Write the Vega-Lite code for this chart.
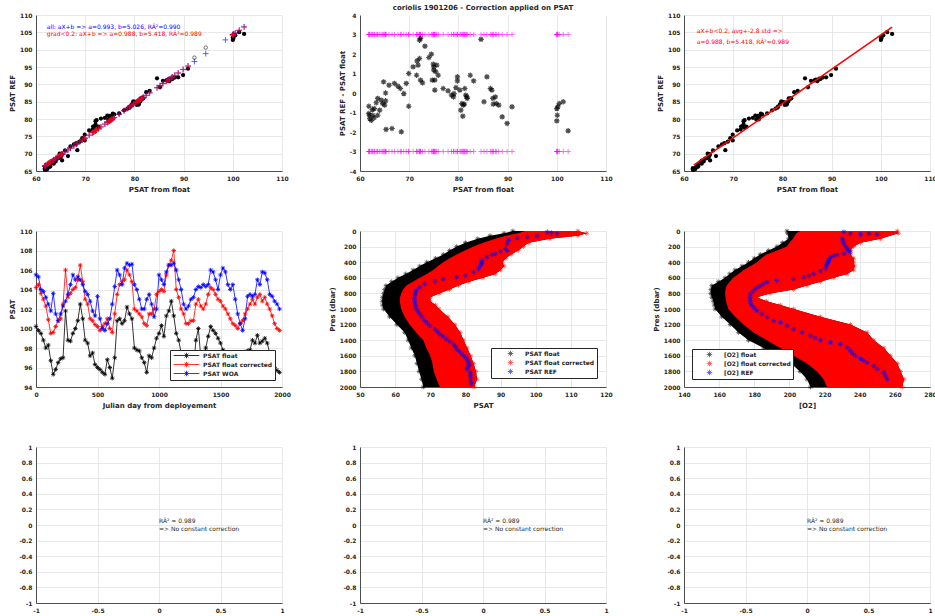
{
  "$schema": "https://vega.github.io/schema/vega-lite/v6.json",
  "background": "white",
  "padding": {"left": 8, "top": 4, "right": 0, "bottom": 0},
  "config": {
    "font": "DejaVu Sans",
    "view": {"stroke": null},
    "title": {"fontSize": 7, "fontWeight": "bold", "color": "#262626", "offset": 1},
    "axis": {
      "labelFontSize": 6, "labelFontWeight": "bold", "labelColor": "#262626",
      "titleFontSize": 7, "titleFontWeight": "bold", "titleColor": "#262626",
      "domainColor": "#262626", "domainWidth": 0.8,
      "gridColor": "#e2e2e2", "gridWidth": 0.8,
      "ticks": false, "labelPadding": 4, "titlePadding": 4, "tickCount": 50,
      "labelFlush": false, "labelOverlap": false, "labelBound": false
    },
    "legend": {
      "labelFontSize": 6, "labelFontWeight": "bold", "labelColor": "#262626",
      "fillColor": "white", "strokeColor": "#262626", "padding": 2, "rowPadding": 0,
      "symbolStrokeWidth": 0.8, "labelLimit": 200
    }
  },
  "columns": 3,
  "spacing": {"row": 60, "column": 78},
  "bounds": "flush",
  "resolve": {"scale": {"color": "independent"}, "legend": {"color": "independent"}},
  "datasets": {
    "main": [
      {"f":61.8,"r":65.80,"d":-0.68,"g":66.48,"a":66.39},
      {"f":61.8,"r":65.43,"d":-1.05,"g":66.48,"a":66.39},
      {"f":61.9,"r":65.44,"d":-1.14,"g":66.58,"a":66.49},
      {"f":62.0,"r":65.36,"d":-1.31,"g":66.67,"a":66.59},
      {"f":62.3,"r":65.57,"d":-1.40,"g":66.97,"a":66.89},
      {"f":62.6,"r":66.13,"d":-1.14,"g":67.27,"a":67.19},
      {"f":62.5,"r":66.32,"d":-0.85,"g":67.17,"a":67.09},
      {"f":62.9,"r":66.76,"d":-0.80,"g":67.56,"a":67.49},
      {"f":63.3,"r":67.46,"d":-0.50,"g":67.96,"a":67.88},
      {"f":62.9,"r":66.29,"d":-1.27,"g":67.56,"a":67.49},
      {"f":63.6,"r":67.12,"d":-1.14,"g":68.26,"a":68.18},
      {"f":64.0,"r":67.77,"d":-0.88,"g":68.65,"a":68.58},
      {"f":63.6,"r":67.98,"d":-0.28,"g":68.26,"a":68.18},
      {"f":64.3,"r":68.58,"d":-0.37,"g":68.95,"a":68.88},
      {"f":64.8,"r":70.01,"d":0.57,"g":69.44,"a":69.37},
      {"f":64.6,"r":68.70,"d":-0.54,"g":69.24,"a":69.17},
      {"f":65.0,"r":69.02,"d":-0.62,"g":69.64,"a":69.57},
      {"f":65.2,"r":69.44,"d":-0.40,"g":69.84,"a":69.77},
      {"f":65.2,"r":69.84,"d":0.00,"g":69.84,"a":69.77},
      {"f":65.3,"r":68.06,"d":-1.87,"g":69.93,"a":69.87},
      {"f":65.9,"r":70.93,"d":0.40,"g":70.53,"a":70.47},
      {"f":66.5,"r":69.30,"d":-1.82,"g":71.12,"a":71.06},
      {"f":67.0,"r":72.10,"d":0.49,"g":71.61,"a":71.56},
      {"f":67.7,"r":72.66,"d":0.35,"g":72.31,"a":72.25},
      {"f":68.2,"r":73.03,"d":0.23,"g":72.80,"a":72.75},
      {"f":68.4,"r":71.01,"d":-1.99,"g":73.00,"a":72.95},
      {"f":68.9,"r":73.46,"d":-0.03,"g":73.49,"a":73.44},
      {"f":69.4,"r":74.48,"d":0.49,"g":73.99,"a":73.94},
      {"f":69.9,"r":75.48,"d":1.00,"g":74.48,"a":74.44},
      {"f":69.9,"r":73.80,"d":-0.68,"g":74.48,"a":74.44},
      {"f":70.8,"r":76.71,"d":1.34,"g":75.37,"a":75.33},
      {"f":71.5,"r":76.97,"d":0.91,"g":76.06,"a":76.03},
      {"f":71.6,"r":77.81,"d":1.65,"g":76.16,"a":76.12},
      {"f":71.8,"r":77.79,"d":1.43,"g":76.36,"a":76.32},
      {"f":72.1,"r":78.42,"d":1.77,"g":76.65,"a":76.62},
      {"f":72.1,"r":79.36,"d":2.71,"g":76.65,"a":76.62},
      {"f":72.3,"r":79.65,"d":2.80,"g":76.85,"a":76.82},
      {"f":72.3,"r":77.51,"d":0.66,"g":76.85,"a":76.82},
      {"f":72.7,"r":77.77,"d":0.52,"g":77.25,"a":77.22},
      {"f":73.2,"r":80.14,"d":2.40,"g":77.74,"a":77.71},
      {"f":74.0,"r":80.35,"d":1.82,"g":78.53,"a":78.51},
      {"f":74.5,"r":81.01,"d":1.99,"g":79.02,"a":79.00},
      {"f":74.7,"r":79.88,"d":0.66,"g":79.22,"a":79.20},
      {"f":74.9,"r":80.90,"d":1.48,"g":79.42,"a":79.40},
      {"f":75.0,"r":80.86,"d":1.34,"g":79.52,"a":79.50},
      {"f":75.0,"r":80.69,"d":1.17,"g":79.52,"a":79.50},
      {"f":75.2,"r":79.87,"d":0.15,"g":79.72,"a":79.70},
      {"f":75.2,"r":80.38,"d":0.66,"g":79.72,"a":79.70},
      {"f":75.4,"r":81.00,"d":1.09,"g":79.91,"a":79.90},
      {"f":75.6,"r":81.54,"d":1.43,"g":80.11,"a":80.10},
      {"f":75.9,"r":81.32,"d":0.91,"g":80.41,"a":80.40},
      {"f":76.9,"r":81.63,"d":0.23,"g":81.40,"a":81.39},
      {"f":77.9,"r":82.49,"d":0.11,"g":82.38,"a":82.38},
      {"f":78.6,"r":82.97,"d":-0.11,"g":83.08,"a":83.08},
      {"f":79.0,"r":83.27,"d":-0.20,"g":83.47,"a":83.47},
      {"f":79.1,"r":83.54,"d":-0.03,"g":83.57,"a":83.57},
      {"f":79.5,"r":84.24,"d":0.28,"g":83.96,"a":83.97},
      {"f":79.8,"r":85.09,"d":0.83,"g":84.26,"a":84.27},
      {"f":79.8,"r":84.88,"d":0.62,"g":84.26,"a":84.27},
      {"f":80.3,"r":84.90,"d":0.15,"g":84.75,"a":84.76},
      {"f":80.5,"r":84.07,"d":-0.88,"g":84.95,"a":84.96},
      {"f":80.7,"r":84.61,"d":-0.54,"g":85.15,"a":85.16},
      {"f":80.9,"r":84.16,"d":-1.19,"g":85.35,"a":85.36},
      {"f":81.0,"r":84.83,"d":-0.62,"g":85.45,"a":85.46},
      {"f":81.2,"r":85.07,"d":-0.57,"g":85.64,"a":85.66},
      {"f":81.3,"r":85.97,"d":0.23,"g":85.74,"a":85.76},
      {"f":81.5,"r":85.83,"d":-0.11,"g":85.94,"a":85.96},
      {"f":81.7,"r":85.94,"d":-0.20,"g":86.14,"a":86.15},
      {"f":81.8,"r":85.96,"d":-0.28,"g":86.24,"a":86.25},
      {"f":82.4,"r":87.74,"d":0.91,"g":86.83,"a":86.85},
      {"f":83.1,"r":88.14,"d":0.62,"g":87.52,"a":87.54},
      {"f":84.6,"r":91.75,"d":2.75,"g":89.00,"a":89.03},
      {"f":85.2,"r":89.15,"d":-0.45,"g":89.60,"a":89.63},
      {"f":85.8,"r":91.02,"d":0.83,"g":90.19,"a":90.23},
      {"f":86.5,"r":91.11,"d":0.23,"g":90.88,"a":90.92},
      {"f":86.8,"r":91.33,"d":0.15,"g":91.18,"a":91.22},
      {"f":87.0,"r":91.09,"d":-0.28,"g":91.37,"a":91.42},
      {"f":87.1,"r":90.90,"d":-0.57,"g":91.47,"a":91.52},
      {"f":87.5,"r":91.67,"d":-0.20,"g":91.87,"a":91.91},
      {"f":87.7,"r":91.53,"d":-0.54,"g":92.07,"a":92.11},
      {"f":88.2,"r":91.94,"d":-0.62,"g":92.56,"a":92.61},
      {"f":88.9,"r":92.03,"d":-1.22,"g":93.25,"a":93.30},
      {"f":89.9,"r":92.68,"d":-1.56,"g":94.24,"a":94.30},
      {"f":90.9,"r":94.52,"d":-0.71,"g":95.23,"a":95.29},
      {"f":100.0,"r":103.42,"d":-0.80,"g":104.22,"a":104.33},
      {"f":100.1,"r":103.18,"d":-1.14,"g":104.32,"a":104.43},
      {"f":100.0,"r":102.79,"d":-1.43,"g":104.22,"a":104.33},
      {"f":100.2,"r":103.71,"d":-0.71,"g":104.42,"a":104.53},
      {"f":100.5,"r":104.17,"d":-0.54,"g":104.71,"a":104.82},
      {"f":101.3,"r":105.05,"d":-0.45,"g":105.50,"a":105.62},
      {"f":102.3,"r":104.55,"d":-1.94,"g":106.49,"a":106.61}
    ],
    "excl": [
      {"f":92.2,"r":97.7,"a":96.58},
      {"f":94.5,"r":100.6,"a":98.86},
      {"f":98.5,"a":102.83}
    ],
    "ts": [
      {"t":0,"f":100.2,"c":104.2,"w":105.5},{"t":20,"f":99.8,"c":104.5,"w":105.3},
      {"t":40,"f":99.5,"c":103.6,"w":104.0},{"t":60,"f":98.8,"c":103.0,"w":103.8},
      {"t":80,"f":98.0,"c":102.3,"w":103.2},{"t":100,"f":98.3,"c":100.9,"w":102.5},
      {"t":120,"f":96.7,"c":99.5,"w":101.8},{"t":140,"f":95.3,"c":99.6,"w":103.6},
      {"t":160,"f":95.8,"c":100.2,"w":101.5},{"t":180,"f":96.5,"c":100.8,"w":100.8},
      {"t":200,"f":96.9,"c":101.0,"w":101.5},{"t":220,"f":97.0,"c":102.5,"w":102.3},
      {"t":240,"f":101.8,"c":106.0,"w":102.8},{"t":260,"f":98.8,"c":103.2,"w":103.5},
      {"t":280,"f":98.7,"c":103.6,"w":104.5},{"t":300,"f":99.5,"c":104.0,"w":105.5},
      {"t":320,"f":100.0,"c":104.2,"w":105.0},{"t":340,"f":100.8,"c":105.0,"w":105.3},
      {"t":360,"f":102.5,"c":106.5,"w":105.0},{"t":380,"f":101.0,"c":104.8,"w":104.5},
      {"t":400,"f":98.8,"c":103.0,"w":103.8},{"t":420,"f":98.5,"c":102.5,"w":103.5},
      {"t":440,"f":97.2,"c":101.0,"w":102.8},{"t":460,"f":97.5,"c":100.8,"w":101.8},
      {"t":480,"f":96.3,"c":100.4,"w":101.3},{"t":500,"f":96.0,"c":100.2,"w":103.3},
      {"t":520,"f":95.8,"c":99.8,"w":101.0},{"t":540,"f":95.5,"c":100.2,"w":100.0},
      {"t":560,"f":95.3,"c":100.5,"w":99.8},{"t":580,"f":96.8,"c":101.0,"w":100.5},
      {"t":600,"f":96.0,"c":100.0,"w":101.0},{"t":620,"f":94.9,"c":99.6,"w":102.5},
      {"t":640,"f":97.0,"c":101.5,"w":104.3},{"t":660,"f":100.8,"c":103.5,"w":106.0},
      {"t":680,"f":101.0,"c":104.5,"w":105.5},{"t":700,"f":100.5,"c":104.8,"w":104.5},
      {"t":720,"f":100.8,"c":105.0,"w":106.2},{"t":740,"f":102.2,"c":106.0,"w":106.7},
      {"t":760,"f":101.5,"c":105.5,"w":106.5},{"t":780,"f":101.0,"c":104.8,"w":106.6},
      {"t":800,"f":98.0,"c":102.0,"w":104.5},{"t":820,"f":97.8,"c":101.8,"w":104.0},
      {"t":840,"f":97.7,"c":101.5,"w":103.0},{"t":860,"f":97.0,"c":101.2,"w":102.0},
      {"t":880,"f":96.5,"c":100.5,"w":102.0},{"t":900,"f":95.5,"c":100.3,"w":103.0},
      {"t":920,"f":97.2,"c":101.5,"w":103.5},{"t":940,"f":97.0,"c":101.5,"w":102.5},
      {"t":960,"f":98.0,"c":102.0,"w":101.2},{"t":980,"f":99.0,"c":103.5,"w":102.0},
      {"t":1000,"f":99.5,"c":103.8,"w":105.5},{"t":1020,"f":100.3,"c":104.0,"w":105.0},
      {"t":1040,"f":99.2,"c":103.8,"w":104.5},{"t":1060,"f":101.3,"c":105.5,"w":105.8},
      {"t":1080,"f":101.8,"c":106.5,"w":106.5},{"t":1100,"f":102.8,"c":107.0,"w":106.5},
      {"t":1120,"f":101.3,"c":108.0,"w":106.7},{"t":1140,"f":99.5,"c":104.0,"w":106.0},
      {"t":1160,"f":98.8,"c":103.2,"w":105.0},{"t":1180,"f":97.5,"c":102.0,"w":104.0},
      {"t":1200,"f":96.8,"c":101.5,"w":102.5},{"t":1220,"f":96.3,"c":100.5,"w":102.0},
      {"t":1240,"f":95.8,"c":100.5,"w":102.3},{"t":1260,"f":96.0,"c":100.8,"w":103.0},
      {"t":1280,"f":95.7,"c":100.8,"w":103.2},{"t":1300,"f":98.8,"c":102.5,"w":104.0},
      {"t":1320,"f":100.0,"c":103.0,"w":104.3},{"t":1340,"f":97.0,"c":102.3,"w":104.2},
      {"t":1360,"f":96.5,"c":102.0,"w":104.5},{"t":1380,"f":98.0,"c":102.5,"w":104.3},
      {"t":1400,"f":99.2,"c":103.5,"w":104.5},{"t":1420,"f":100.2,"c":104.2,"w":106.0},
      {"t":1440,"f":99.8,"c":104.0,"w":105.8},{"t":1460,"f":99.5,"c":103.5,"w":105.0},
      {"t":1480,"f":99.0,"c":103.0,"w":104.0},{"t":1500,"f":98.5,"c":102.8,"w":105.5},
      {"t":1520,"f":97.8,"c":102.3,"w":106.2},{"t":1540,"f":97.3,"c":102.0,"w":105.8},
      {"t":1560,"f":96.5,"c":101.5,"w":104.5},{"t":1580,"f":96.7,"c":101.0,"w":104.0},
      {"t":1600,"f":96.5,"c":100.5,"w":104.5},{"t":1620,"f":96.8,"c":100.3,"w":103.0},
      {"t":1640,"f":97.0,"c":100.0,"w":101.5},{"t":1660,"f":97.2,"c":100.5,"w":100.5},
      {"t":1680,"f":97.5,"c":100.8,"w":99.8},{"t":1700,"f":97.6,"c":101.5,"w":101.0},
      {"t":1720,"f":97.7,"c":102.0,"w":103.3},{"t":1740,"f":97.8,"c":102.5,"w":103.5},
      {"t":1760,"f":98.8,"c":103.0,"w":103.3},{"t":1780,"f":98.5,"c":102.5,"w":103.5},
      {"t":1800,"f":99.3,"c":103.2,"w":105.0},{"t":1820,"f":98.5,"c":103.5,"w":104.5},
      {"t":1840,"f":98.7,"c":102.8,"w":105.8},{"t":1860,"f":99.0,"c":103.2,"w":105.7},
      {"t":1880,"f":98.5,"c":102.5,"w":105.0},{"t":1900,"f":97.5,"c":102.0,"w":103.5},
      {"t":1920,"f":96.8,"c":101.3,"w":103.3},{"t":1940,"f":96.0,"c":100.5,"w":102.8},
      {"t":1960,"f":95.7,"c":100.0,"w":102.5},{"t":1980,"f":95.5,"c":99.8,"w":102.0}
    ],
    "prof1": [
      {"p":0,"bl":93.5,"rl":97,"rr":112},{"p":30,"bl":91,"rl":95,"rr":114.5},
      {"p":60,"bl":87,"rl":91.5,"rr":112},{"p":100,"bl":83.5,"rl":88.5,"rr":104},
      {"p":150,"bl":80,"rl":85,"rr":98},{"p":200,"bl":77.5,"rl":82.3,"rr":96.5},
      {"p":250,"bl":75.5,"rl":79.8,"rr":95},{"p":300,"bl":73.7,"rl":77.5,"rr":93},
      {"p":350,"bl":71.5,"rl":75.5,"rr":91.5},{"p":400,"bl":69,"rl":73.7,"rr":90.5},
      {"p":450,"bl":67,"rl":72.2,"rr":91},{"p":500,"bl":65.1,"rl":70.8,"rr":90},
      {"p":550,"bl":63,"rl":69,"rr":88.5},{"p":600,"bl":60.8,"rl":67,"rr":85},
      {"p":650,"bl":59,"rl":65,"rr":81},{"p":700,"bl":57.4,"rl":63.2,"rr":78},
      {"p":750,"bl":57,"rl":62.3,"rr":75.5},{"p":800,"bl":56.7,"rl":61.7,"rr":72.5},
      {"p":850,"bl":56.4,"rl":61.4,"rr":70},{"p":900,"bl":56.3,"rl":61.3,"rr":70},
      {"p":950,"bl":56.4,"rl":61.5,"rr":71.5},{"p":1000,"bl":56.7,"rl":61.7,"rr":72.5},
      {"p":1100,"bl":58.4,"rl":62.7,"rr":75},{"p":1200,"bl":60.5,"rl":64.1,"rr":77},
      {"p":1300,"bl":62.7,"rl":66,"rr":78.5},{"p":1400,"bl":63.7,"rl":68,"rr":79.5},
      {"p":1500,"bl":64.6,"rl":68.9,"rr":80.5},{"p":1600,"bl":65.6,"rl":70,"rr":81.5},
      {"p":1700,"bl":66.2,"rl":70.6,"rr":82.3},{"p":1800,"bl":66.8,"rl":71,"rr":83},
      {"p":1900,"bl":67.5,"rl":71.8,"rr":83.3},{"p":2000,"bl":68,"rl":72.7,"rr":82.5}
    ],
    "ref1": [
      {"p":13,"x":103.3},{"p":25,"x":104.5},{"p":34,"x":106},{"p":64,"x":100.4},{"p":77,"x":97.6},
      {"p":90,"x":94.7},{"p":120,"x":92.3},{"p":163,"x":91.8},{"p":227,"x":91.4},{"p":250,"x":91.9},
      {"p":262,"x":90},{"p":292,"x":88.5},{"p":300,"x":87.5},{"p":335,"x":86.1},{"p":378,"x":84.7},
      {"p":400,"x":84.5},{"p":420,"x":84.7},{"p":450,"x":84.2},{"p":485,"x":83.7},{"p":528,"x":82.3},
      {"p":571,"x":79.9},{"p":592,"x":77.5},{"p":614,"x":73.7},{"p":644,"x":71.3},{"p":678,"x":68.4},
      {"p":721,"x":67},{"p":764,"x":66},{"p":800,"x":65.7},{"p":828,"x":65.6},{"p":870,"x":65.5},
      {"p":914,"x":65.6},{"p":957,"x":65.8},{"p":1000,"x":66},{"p":1030,"x":66.5},{"p":1064,"x":67},
      {"p":1100,"x":67.6},{"p":1150,"x":68.4},{"p":1180,"x":69.2},{"p":1215,"x":69.9},{"p":1258,"x":71.3},
      {"p":1290,"x":72},{"p":1322,"x":72.7},{"p":1350,"x":73.6},{"p":1386,"x":74.6},{"p":1420,"x":75.6},
      {"p":1450,"x":76.6},{"p":1480,"x":77.1},{"p":1515,"x":77.5},{"p":1545,"x":78.3},{"p":1579,"x":79},
      {"p":1610,"x":79.8},{"p":1644,"x":80.4},{"p":1680,"x":80.8},{"p":1708,"x":81.1},{"p":1740,"x":80.8},
      {"p":1772,"x":80.4},{"p":1815,"x":81.3},{"p":1850,"x":81.4},{"p":1880,"x":81.5},{"p":1923,"x":81.6},
      {"p":1960,"x":81.7}
    ],
    "prof2": [
      {"p":0,"bl":198.6,"rl":206,"rr":261.4},{"p":30,"bl":199,"rl":204,"rr":262},
      {"p":100,"bl":199.5,"rl":202,"rr":251.8},{"p":150,"bl":196,"rl":200,"rr":240.4},
      {"p":200,"bl":192.9,"rl":198.6,"rr":236.6},{"p":250,"bl":188,"rl":193,"rr":234.7},
      {"p":300,"bl":183.4,"rl":187,"rr":234.7},{"p":350,"bl":180,"rl":184,"rr":236.6},
      {"p":400,"bl":176.7,"rl":181.5,"rr":236.6},{"p":450,"bl":173,"rl":178,"rr":237},
      {"p":500,"bl":169,"rl":173.9,"rr":236.6},{"p":550,"bl":166,"rl":171,"rr":232.8},
      {"p":600,"bl":163.4,"rl":168,"rr":225.2},{"p":650,"bl":159.5,"rl":166,"rr":217.6},
      {"p":700,"bl":155.8,"rl":164.3,"rr":210},{"p":750,"bl":155.3,"rl":163.6,"rr":202.4},
      {"p":800,"bl":155.2,"rl":163.4,"rr":189},{"p":850,"bl":155.8,"rl":163.6,"rr":181.5},
      {"p":900,"bl":156.7,"rl":164,"rr":187},{"p":950,"bl":157.2,"rl":164.5,"rr":194.8},
      {"p":1000,"bl":157.7,"rl":165.3,"rr":202.4},{"p":1100,"bl":161.5,"rl":169.1,"rr":217.6},
      {"p":1200,"bl":166.3,"rl":173.9,"rr":234.7},{"p":1300,"bl":171,"rl":179.6,"rr":244.2},
      {"p":1400,"bl":176.7,"rl":187.2,"rr":248},{"p":1500,"bl":185.3,"rl":194.8,"rr":253.8},
      {"p":1600,"bl":192.9,"rl":202.4,"rr":257.6},{"p":1700,"bl":201,"rl":210,"rr":261.4},
      {"p":1800,"bl":206,"rl":215.7,"rr":263.3},{"p":1900,"bl":210,"rl":219.5,"rr":265.2},
      {"p":2000,"bl":212,"rl":221.4,"rr":264.2}
    ],
    "ref2": [
      {"p":13,"x":231},{"p":34,"x":234.7},{"p":43,"x":240.4},{"p":34,"x":245.2},{"p":43,"x":249.9},
      {"p":99,"x":230},{"p":130,"x":230.5},{"p":163,"x":231},{"p":200,"x":232},{"p":227,"x":232.8},
      {"p":250,"x":233.5},{"p":270,"x":234.7},{"p":292,"x":231},{"p":305,"x":227.1},{"p":320,"x":225},
      {"p":335,"x":223.3},{"p":355,"x":222.8},{"p":378,"x":222.4},{"p":400,"x":222},{"p":420,"x":221.4},
      {"p":450,"x":221},{"p":485,"x":220.5},{"p":515,"x":217.6},{"p":549,"x":213.8},{"p":570,"x":211},
      {"p":592,"x":208.1},{"p":614,"x":202.4},{"p":635,"x":192.9},{"p":657,"x":187.2},{"p":680,"x":185},
      {"p":700,"x":183.4},{"p":720,"x":182},{"p":742,"x":180.5},{"p":775,"x":179},{"p":807,"x":177.7},
      {"p":850,"x":177.5},{"p":893,"x":177.7},{"p":930,"x":178},{"p":957,"x":178.6},{"p":990,"x":180},
      {"p":1021,"x":181.5},{"p":1064,"x":184.3},{"p":1107,"x":187.2},{"p":1150,"x":191},{"p":1172,"x":194.8},
      {"p":1215,"x":198.6},{"p":1258,"x":202.4},{"p":1300,"x":207.1},{"p":1343,"x":211.9},{"p":1370,"x":214.5},
      {"p":1399,"x":217.6},{"p":1429,"x":223.3},{"p":1450,"x":229},{"p":1493,"x":232.8},{"p":1536,"x":234.7},
      {"p":1570,"x":236},{"p":1601,"x":237.6},{"p":1635,"x":240.4},{"p":1660,"x":242},{"p":1687,"x":244.2},
      {"p":1730,"x":248},{"p":1772,"x":249.9},{"p":1815,"x":253.8},{"p":1858,"x":254.7},{"p":1901,"x":255.6}
    ]
  },
  "concat": [
    {
      "width": 246, "height": 156,
      "layer": [
        {"data": {"name": "main"},
         "mark": {"type": "circle", "color": "black", "size": 18, "opacity": 1},
         "encoding": {
           "x": {"field": "f", "type": "quantitative", "scale": {"domain": [60, 110], "nice": false}, "axis": {"title": "PSAT from float", "values": [60, 70, 80, 90, 100, 110], "format": "d", "labelOverlap": false, "tickCount": 50}},
           "y": {"field": "r", "type": "quantitative", "scale": {"domain": [65, 110], "nice": false}, "axis": {"title": "PSAT REF", "values": [65, 70, 75, 80, 85, 90, 95, 100, 105, 110], "format": "d", "labelOverlap": false, "tickCount": 50}}
         }},
        {"data": {"name": "excl"},
         "mark": {"type": "point", "shape": "circle", "filled": false, "color": "black", "size": 12, "strokeWidth": 0.8},
         "encoding": {"x": {"field": "f", "type": "quantitative"}, "y": {"field": "r", "type": "quantitative"}}},
        {"data": {"name": "main"},
         "mark": {"type": "point", "shape": "M-1,0L1,0M0,-1L0,1", "filled": false, "color": "blue", "size": 34, "strokeWidth": 0.9},
         "encoding": {"x": {"field": "f", "type": "quantitative"}, "y": {"field": "a", "type": "quantitative"}}},
        {"data": {"name": "excl"},
         "mark": {"type": "point", "shape": "M-1,0L1,0M0,-1L0,1", "filled": false, "color": "blue", "size": 34, "strokeWidth": 0.9},
         "encoding": {"x": {"field": "f", "type": "quantitative"}, "y": {"field": "a", "type": "quantitative"}}},
        {"data": {"name": "main"},
         "mark": {"type": "point", "shape": "M-1,0L1,0M0,-1L0,1", "filled": false, "color": "red", "size": 34, "strokeWidth": 0.9},
         "encoding": {"x": {"field": "f", "type": "quantitative"}, "y": {"field": "g", "type": "quantitative"}}},
        {"data": {"values": [{"f": 62.2, "r": 106.6, "t": "all: aX+b => a=0.993, b=5.026, RÂ²=0.990"}]},
         "mark": {"type": "text", "align": "left", "baseline": "middle", "fontSize": 6, "color": "blue"},
         "encoding": {"x": {"field": "f", "type": "quantitative"}, "y": {"field": "r", "type": "quantitative"}, "text": {"field": "t"}}},
        {"data": {"values": [{"f": 62.2, "r": 104.5, "t": "grad<0.2: aX+b => a=0.988, b=5.418, RÂ²=0.989"}]},
         "mark": {"type": "text", "align": "left", "baseline": "middle", "fontSize": 6, "color": "red"},
         "encoding": {"x": {"field": "f", "type": "quantitative"}, "y": {"field": "r", "type": "quantitative"}, "text": {"field": "t"}}}
      ]
    },
    {
      "width": 246, "height": 156,
      "title": "coriolis 1901206 - Correction applied on PSAT",
      "data": {"name": "main"},
      "layer": [
        {"mark": {"type": "point", "shape": "M-1,0L1,0M0,-1L0,1", "filled": false, "color": "#ff00ff", "size": 28, "strokeWidth": 0.8},
         "encoding": {
           "x": {"field": "f", "type": "quantitative", "scale": {"domain": [60, 110], "nice": false}, "axis": {"title": "PSAT from float", "values": [60, 70, 80, 90, 100, 110], "format": "d", "labelOverlap": false, "tickCount": 50}},
           "y": {"datum": 3, "type": "quantitative", "scale": {"domain": [-4, 4], "nice": false}, "axis": {"title": "PSAT REF - PSAT float", "values": [-4, -3, -2, -1, 0, 1, 2, 3, 4], "labelExpr": "'' + datum.value", "labelOverlap": false, "tickCount": 50}}
         }},
        {"mark": {"type": "point", "shape": "M-1,0L1,0M0,-1L0,1", "filled": false, "color": "#ff00ff", "size": 28, "strokeWidth": 0.8},
         "encoding": {"x": {"field": "f", "type": "quantitative"}, "y": {"datum": -3, "type": "quantitative"}}},
        {"mark": {"type": "point", "shape": "M-1,0L1,0M0,-1L0,1M-0.7,-0.7L0.7,0.7M-0.7,0.7L0.7,-0.7", "filled": false, "color": "black", "size": 30, "strokeWidth": 1.2},
         "encoding": {"x": {"field": "f", "type": "quantitative"}, "y": {"field": "d", "type": "quantitative"}}}
      ]
    },
    {
      "width": 246, "height": 156,
      "layer": [
        {"data": {"name": "main"},
         "mark": {"type": "circle", "color": "black", "size": 18, "opacity": 1},
         "encoding": {
           "x": {"field": "f", "type": "quantitative", "scale": {"domain": [60, 110], "nice": false}, "axis": {"title": "PSAT from float", "values": [60, 70, 80, 90, 100, 110], "format": "d", "labelOverlap": false, "tickCount": 50}},
           "y": {"field": "r", "type": "quantitative", "scale": {"domain": [65, 110], "nice": false}, "axis": {"title": "PSAT REF", "values": [65, 70, 75, 80, 85, 90, 95, 100, 105, 110], "format": "d", "labelOverlap": false, "tickCount": 50}}
         }},
        {"data": {"values": [{"f": 62, "r": 66.67}, {"f": 102.3, "r": 106.49}]},
         "mark": {"type": "line", "color": "red", "strokeWidth": 1.5},
         "encoding": {"x": {"field": "f", "type": "quantitative"}, "y": {"field": "r", "type": "quantitative"}}},
        {"data": {"values": [{"f": 62.6, "r": 105.4, "t": "aX+b<0.2, avg+-2.8 std =>"}, {"f": 62.6, "r": 102.1, "t": "a=0.988, b=5.418, RÂ²=0.989"}]},
         "mark": {"type": "text", "align": "left", "baseline": "middle", "fontSize": 6, "color": "red"},
         "encoding": {"x": {"field": "f", "type": "quantitative"}, "y": {"field": "r", "type": "quantitative"}, "text": {"field": "t"}}}
      ]
    },
    {
      "width": 246, "height": 156,
      "data": {"name": "ts"},
      "transform": [{"fold": ["f", "c", "w"], "as": ["k", "v"]}],
      "mark": {"type": "line", "strokeWidth": 0.8,
               "point": {"filled": false, "shape": "M-1,0L1,0M0,-1L0,1M-0.7,-0.7L0.7,0.7M-0.7,0.7L0.7,-0.7", "size": 20, "strokeWidth": 0.8}},
      "encoding": {
        "x": {"field": "t", "type": "quantitative", "scale": {"domain": [0, 2000], "nice": false}, "axis": {"title": "Julian day from deployement", "values": [0, 500, 1000, 1500, 2000], "format": "d", "labelOverlap": false, "tickCount": 50}},
        "y": {"field": "v", "type": "quantitative", "scale": {"domain": [94, 110], "nice": false}, "axis": {"title": "PSAT", "values": [94, 96, 98, 100, 102, 104, 106, 108, 110], "format": "d", "labelOverlap": false, "tickCount": 50}},
        "color": {"field": "k", "type": "nominal",
                  "scale": {"domain": ["f", "c", "w"], "range": ["black", "red", "blue"]},
                  "legend": {"title": null, "orient": "bottom-right", "offset": 7,
                             "symbolType": "M-4.7,0L4.7,0M0,-1L0,1M-0.7,-0.7L0.7,0.7M-0.7,0.7L0.7,-0.7",
                             "symbolSize": 30, "symbolOffset": 11, "labelOffset": 13,
                             "labelExpr": "datum.label == 'f' ? 'PSAT float' : datum.label == 'c' ? 'PSAT float corrected' : 'PSAT WOA'"}}
      }
    },
    {
      "width": 246, "height": 156,
      "layer": [
        {"data": {"name": "prof1"},
         "mark": {"type": "area", "orient": "horizontal", "color": "black"},
         "encoding": {
           "y": {"field": "p", "type": "quantitative", "scale": {"domain": [0, 2000], "reverse": true, "nice": false}, "axis": {"title": "Pres (dbar)", "values": [0, 200, 400, 600, 800, 1000, 1200, 1400, 1600, 1800, 2000], "format": "d", "labelOverlap": false, "tickCount": 50}},
           "x": {"field": "bl", "type": "quantitative", "scale": {"domain": [50, 120], "nice": false}, "axis": {"title": "PSAT", "values": [50, 60, 70, 80, 90, 100, 110, 120], "format": "d", "labelOverlap": false, "tickCount": 50}},
           "x2": {"field": "rr"}
         }},
        {"data": {"name": "prof1"},
         "mark": {"type": "area", "orient": "horizontal", "color": "red"},
         "encoding": {"y": {"field": "p", "type": "quantitative"}, "x": {"field": "rl", "type": "quantitative"}, "x2": {"field": "rr"}}},
        {"data": {"name": "prof1"},
         "transform": [{"fold": ["bl", "rr"], "as": ["k", "x"]}],
         "mark": {"type": "point", "filled": false, "shape": "M-1,0L1,0M0,-1L0,1M-0.7,-0.7L0.7,0.7M-0.7,0.7L0.7,-0.7", "size": 22, "strokeWidth": 0.8},
         "encoding": {
           "y": {"field": "p", "type": "quantitative"}, "x": {"field": "x", "type": "quantitative"},
           "color": {"field": "k", "type": "nominal", "scale": {"domain": ["bl", "rr", "ref"], "range": ["black", "red", "blue"]},
                     "legend": {"title": null, "orient": "bottom-right", "offset": 9,
                                "symbolType": "M-1,0L1,0M0,-1L0,1M-0.7,-0.7L0.7,0.7M-0.7,0.7L0.7,-0.7",
                                "symbolSize": 30, "symbolOffset": 14, "labelOffset": 11,
                                "labelExpr": "datum.label == 'bl' ? 'PSAT float' : datum.label == 'rr' ? 'PSAT float corrected' : 'PSAT REF'"}}
         }},
        {"data": {"name": "ref1"},
         "mark": {"type": "point", "filled": false, "shape": "M-1,0L1,0M0,-1L0,1M-0.7,-0.7L0.7,0.7M-0.7,0.7L0.7,-0.7", "size": 24, "strokeWidth": 1},
         "encoding": {"y": {"field": "p", "type": "quantitative"}, "x": {"field": "x", "type": "quantitative"}, "color": {"datum": "ref"}}}
      ]
    },
    {
      "width": 246, "height": 156,
      "layer": [
        {"data": {"name": "prof2"},
         "mark": {"type": "area", "orient": "horizontal", "color": "black"},
         "encoding": {
           "y": {"field": "p", "type": "quantitative", "scale": {"domain": [0, 2000], "reverse": true, "nice": false}, "axis": {"title": "Pres (dbar)", "values": [0, 200, 400, 600, 800, 1000, 1200, 1400, 1600, 1800, 2000], "format": "d", "labelOverlap": false, "tickCount": 50}},
           "x": {"field": "bl", "type": "quantitative", "scale": {"domain": [140, 280], "nice": false}, "axis": {"title": "[O2]", "values": [140, 160, 180, 200, 220, 240, 260, 280], "format": "d", "labelOverlap": false, "tickCount": 50}},
           "x2": {"field": "rr"}
         }},
        {"data": {"name": "prof2"},
         "mark": {"type": "area", "orient": "horizontal", "color": "red"},
         "encoding": {"y": {"field": "p", "type": "quantitative"}, "x": {"field": "rl", "type": "quantitative"}, "x2": {"field": "rr"}}},
        {"data": {"name": "prof2"},
         "transform": [{"fold": ["bl", "rr"], "as": ["k", "x"]}],
         "mark": {"type": "point", "filled": false, "shape": "M-1,0L1,0M0,-1L0,1M-0.7,-0.7L0.7,0.7M-0.7,0.7L0.7,-0.7", "size": 22, "strokeWidth": 0.8},
         "encoding": {
           "y": {"field": "p", "type": "quantitative"}, "x": {"field": "x", "type": "quantitative"},
           "color": {"field": "k", "type": "nominal", "scale": {"domain": ["bl", "rr", "ref"], "range": ["black", "red", "blue"]},
                     "legend": {"title": null, "orient": "bottom-left", "offset": 8,
                                "symbolType": "M-1,0L1,0M0,-1L0,1M-0.7,-0.7L0.7,0.7M-0.7,0.7L0.7,-0.7",
                                "symbolSize": 30, "symbolOffset": 12, "labelOffset": 11,
                                "labelExpr": "datum.label == 'bl' ? '[O2] float' : datum.label == 'rr' ? '[O2] float corrected' : '[O2] REF'"}}
         }},
        {"data": {"name": "ref2"},
         "mark": {"type": "point", "filled": false, "shape": "M-1,0L1,0M0,-1L0,1M-0.7,-0.7L0.7,0.7M-0.7,0.7L0.7,-0.7", "size": 24, "strokeWidth": 1},
         "encoding": {"y": {"field": "p", "type": "quantitative"}, "x": {"field": "x", "type": "quantitative"}, "color": {"datum": "ref"}}}
      ]
    },
    {
      "width": 246, "height": 156,
      "data": {"values": [{"x": 0, "y": 0.054, "t": "RÂ² = 0.989"}, {"x": 0, "y": -0.049, "t": "=> No constant correction"}]},
      "mark": {"type": "text", "align": "left", "baseline": "middle", "fontSize": 6, "color": "#262626"},
      "encoding": {
        "x": {"field": "x", "type": "quantitative", "scale": {"domain": [-1, 1], "nice": false}, "axis": {"title": null, "values": [-1, -0.5, 0, 0.5, 1], "labelExpr": "'' + datum.value", "labelOverlap": false, "tickCount": 50}},
        "y": {"field": "y", "type": "quantitative", "scale": {"domain": [-1, 1], "nice": false}, "axis": {"title": null, "values": [-1, -0.8, -0.6, -0.4, -0.2, 0, 0.2, 0.4, 0.6, 0.8, 1], "labelExpr": "'' + datum.value", "labelOverlap": false, "tickCount": 50}},
        "text": {"field": "t"}
      }
    },
    {
      "width": 246, "height": 156,
      "data": {"values": [{"x": 0, "y": 0.054, "t": "RÂ² = 0.989"}, {"x": 0, "y": -0.049, "t": "=> No constant correction"}]},
      "mark": {"type": "text", "align": "left", "baseline": "middle", "fontSize": 6, "color": "#262626"},
      "encoding": {
        "x": {"field": "x", "type": "quantitative", "scale": {"domain": [-1, 1], "nice": false}, "axis": {"title": null, "values": [-1, -0.5, 0, 0.5, 1], "labelExpr": "'' + datum.value", "labelOverlap": false, "tickCount": 50}},
        "y": {"field": "y", "type": "quantitative", "scale": {"domain": [-1, 1], "nice": false}, "axis": {"title": null, "values": [-1, -0.8, -0.6, -0.4, -0.2, 0, 0.2, 0.4, 0.6, 0.8, 1], "labelExpr": "'' + datum.value", "labelOverlap": false, "tickCount": 50}},
        "text": {"field": "t"}
      }
    },
    {
      "width": 246, "height": 156,
      "data": {"values": [{"x": 0, "y": 0.054, "t": "RÂ² = 0.989"}, {"x": 0, "y": -0.049, "t": "=> No constant correction"}]},
      "mark": {"type": "text", "align": "left", "baseline": "middle", "fontSize": 6, "color": "#262626"},
      "encoding": {
        "x": {"field": "x", "type": "quantitative", "scale": {"domain": [-1, 1], "nice": false}, "axis": {"title": null, "values": [-1, -0.5, 0, 0.5, 1], "labelExpr": "'' + datum.value", "labelOverlap": false, "tickCount": 50}},
        "y": {"field": "y", "type": "quantitative", "scale": {"domain": [-1, 1], "nice": false}, "axis": {"title": null, "values": [-1, -0.8, -0.6, -0.4, -0.2, 0, 0.2, 0.4, 0.6, 0.8, 1], "labelExpr": "'' + datum.value", "labelOverlap": false, "tickCount": 50}},
        "text": {"field": "t"}
      }
    }
  ]
}
